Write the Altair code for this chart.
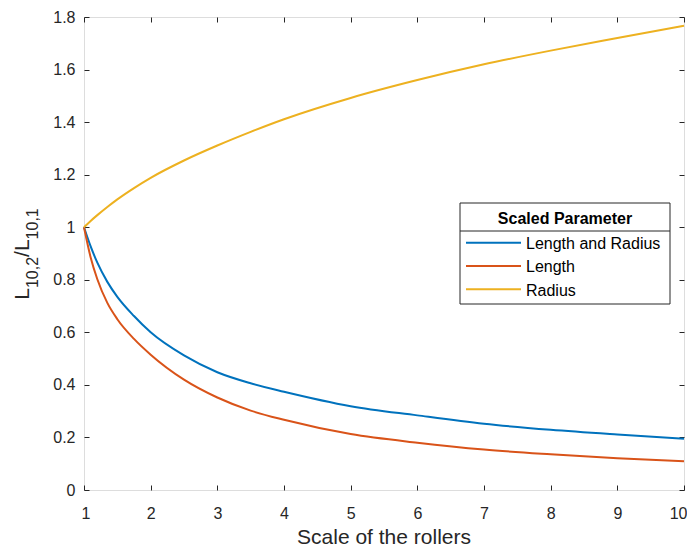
import altair as alt
import pandas as pd

# ---- data ----
x_scale = [1, 1.1, 1.2, 1.35, 1.5, 1.75, 2, 2.5, 3, 3.5, 4, 5, 6, 7, 8, 9, 10]
len_and_radius = [1.000, 0.927, 0.865, 0.792, 0.735, 0.662, 0.600, 0.512, 0.448,
                  0.406, 0.374, 0.319, 0.284, 0.252, 0.229, 0.211, 0.195]
length_only = [1.000, 0.885, 0.802, 0.712, 0.650, 0.575, 0.515, 0.420, 0.352,
               0.302, 0.267, 0.213, 0.180, 0.154, 0.136, 0.121, 0.109]
radius_only = [1.000, 1.024, 1.046, 1.077, 1.106, 1.149, 1.188, 1.254, 1.311,
               1.363, 1.411, 1.492, 1.560, 1.620, 1.672, 1.720, 1.767]
series_names = ["Length and Radius", "Length", "Radius"]
series_colors = ["#0072BD", "#D95319", "#EDB120"]
x_ticks = [1, 2, 3, 4, 5, 6, 7, 8, 9, 10]
y_ticks = [0, 0.2, 0.4, 0.6, 0.8, 1.0, 1.2, 1.4, 1.6, 1.8]
x_title = "Scale of the rollers"
legend_title = "Scaled Parameter"

rows = []
for name, vals in zip(series_names, [len_and_radius, length_only, radius_only]):
    for xv, yv in zip(x_scale, vals):
        rows.append({"scale": xv, "ratio": yv, "series": name})
df = pd.DataFrame(rows)

FONT = "Liberation Sans"
INK = "#262626"

xs = alt.Scale(domain=[1, 10], nice=False, zero=False)
ys = alt.Scale(domain=[0, 1.8], nice=False, zero=False)
color = alt.Color("series:N", scale=alt.Scale(domain=series_names, range=series_colors), legend=None)

common_axis = dict(domain=False, grid=False, tickSize=5, offset=-5, tickColor=INK,
                   labelFont=FONT, labelFontSize=16, labelColor=INK)

lines = alt.Chart(df).mark_line(strokeWidth=2, interpolate="monotone").encode(
    x=alt.X("scale:Q", scale=xs,
            axis=alt.Axis(orient="bottom", values=x_ticks, format="d", labelPadding=15,
                          labelFlush=True, labelFlushOffset=3, title=None, **common_axis)),
    y=alt.Y("ratio:Q", scale=ys,
            axis=alt.Axis(orient="left", values=y_ticks, format="~g", labelPadding=9,
                          title=None, **common_axis)),
    color=color,
)

frame_axes = alt.Chart(df).mark_line(strokeOpacity=0).encode(
    x=alt.X("scale:Q", scale=xs,
            axis=alt.Axis(orient="top", values=x_ticks, labels=False, title=None, **common_axis)),
    y=alt.Y("ratio:Q", scale=ys,
            axis=alt.Axis(orient="right", values=y_ticks, labels=False, title=None, **common_axis)),
    detail="series:N",
)

one = pd.DataFrame({"k": [0]})

# ---- x title ----
xtitle = alt.Chart(one).mark_text(text=x_title, font=FONT, fontSize=21, align="center",
                                  baseline="alphabetic", color=INK).encode(
    x=alt.value(300), y=alt.value(527))

# ---- legend (MATLAB style box) ----
box = alt.Chart(one).mark_rect(fill="white", stroke=INK, strokeWidth=1).encode(
    x=alt.value(376), x2=alt.value(586), y=alt.value(186), y2=alt.value(287))
sep = alt.Chart(one).mark_rule(color=INK, strokeWidth=1).encode(
    x=alt.value(376), x2=alt.value(586), y=alt.value(214))
ltitle = alt.Chart(one).mark_text(text=legend_title, font=FONT, fontSize=16, fontWeight="bold",
                                  align="center", baseline="alphabetic", color="#000000").encode(
    x=alt.value(481), y=alt.value(206.5))
legend_layers = [box, sep, ltitle]
for i, (name, col) in enumerate(zip(series_names, series_colors)):
    yy = 225.7 + i * 23.3
    legend_layers.append(alt.Chart(one).mark_rule(color=col, strokeWidth=2).encode(
        x=alt.value(382), x2=alt.value(437), y=alt.value(yy)))
    legend_layers.append(alt.Chart(one).mark_text(text=name, font=FONT, fontSize=16, align="left",
                                                  baseline="alphabetic", color="#000000").encode(
        x=alt.value(442), y=alt.value(yy + 6.3)))

# ---- y title with subscripts: L_{10,2}/L_{10,1} ----
MAIN, SUB = 21, 16
w_main_L = 0.556 * MAIN
w_slash = 0.278 * MAIN
w_sub = (0.556 * 3 + 0.278) * SUB
total = 2 * w_main_L + w_slash + 2 * w_sub
start = 237 + total / 2
pieces = [("L", MAIN, -55), ("10,2", SUB, -46.5), ("/L", MAIN, -55), ("10,1", SUB, -46.5)]
widths = [w_main_L, w_sub, w_slash + w_main_L, w_sub]
ytitle_layers = []
pos = start
for (txt, fs, px), w in zip(pieces, widths):
    ytitle_layers.append(alt.Chart(one).mark_text(text=txt, font=FONT, fontSize=fs, angle=270,
                                                  align="left", baseline="alphabetic", color=INK).encode(
        x=alt.value(px), y=alt.value(pos)))
    pos -= w

chart = alt.layer(lines, frame_axes, xtitle, *legend_layers, *ytitle_layers).resolve_axis(
    x="independent", y="independent"
).properties(
    width=600, height=473,
    autosize=alt.AutoSizeParams(type="none"),
    padding={"left": 76, "top": 9, "right": 3, "bottom": 60},
).configure_view(stroke=INK, strokeWidth=1).configure(background="white")

chart.save("out.html", embed_options={"renderer": "svg", "actions": False})
